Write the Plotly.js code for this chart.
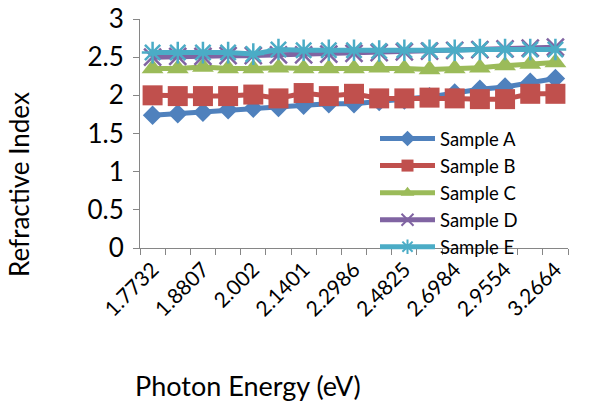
<!DOCTYPE html>
<html>
<head>
<meta charset="utf-8">
<script src="https://cdn.plot.ly/plotly-3.0.1.min.js"></script>
<style>html,body{margin:0;padding:0;background:#fff;}#chart{width:592px;height:404px;}</style>
</head>
<body>
<div id="chart"></div>
<script>
var categories = ["1.7732","1.8254","1.8807","1.9395","2.002","2.0688","2.1401","2.2165","2.2986","2.387","2.4825","2.5859","2.6984","2.821","2.9554","3.1031","3.2664"];
var sampleA = [1.74,1.76,1.78,1.81,1.83,1.84,1.87,1.89,1.89,1.92,1.94,1.98,2.03,2.08,2.11,2.17,2.22];
var sampleB = [2.00,1.99,1.99,1.99,2.01,1.96,2.03,1.99,2.02,1.96,1.96,1.97,1.96,1.95,1.95,2.02,2.02];
var sampleC = [2.35,2.35,2.37,2.35,2.35,2.36,2.35,2.35,2.35,2.36,2.35,2.34,2.35,2.36,2.39,2.41,2.43];
var sampleD = [2.50,2.51,2.51,2.52,2.52,2.53,2.53,2.54,2.55,2.56,2.57,2.58,2.59,2.60,2.61,2.62,2.63];
var sampleE = [2.56,2.56,2.56,2.56,2.54,2.60,2.59,2.59,2.59,2.58,2.59,2.59,2.59,2.60,2.60,2.60,2.60];
var seriesNames = ["Sample A","Sample B","Sample C","Sample D","Sample E"];
var yTicks = [0,0.5,1,1.5,2,2.5,3];
var yTickText = ["0","0.5","1","1.5","2","2.5","3"];

var xTickText = categories.map(function(c,i){ return i % 2 === 0 ? c : ""; });

var FONT = "Lato, 'Open Sans', sans-serif";
function tr(name, y, color, symbol, size, lw){
  return {
    type:"scatter", mode:"lines+markers", name:name, x:categories, y:y,
    line:{color:color, width:5},
    marker:{color:color, symbol:symbol, size:size, line:{color:color, width:lw}}
  };
}
var data = [
  tr(seriesNames[0], sampleA, "#4F81BD", "diamond", 15, 0),
  tr(seriesNames[1], sampleB, "#C0504D", "square", 20, 0),
  tr(seriesNames[2], sampleC, "#9BBB59", "triangle-up", 19, 0),
  tr(seriesNames[3], sampleD, "#8064A2", "x-thin-open", 17, 2.5),
  tr(seriesNames[4], sampleE, "#4BACC6", "asterisk-open", 18, 2.5)
];

var layout = {
  width:592, height:404,
  margin:{l:140, r:24, t:19, b:156, pad:0},
  paper_bgcolor:"#fff", plot_bgcolor:"#fff",
  showlegend:true,
  font:{family:FONT, color:"#000"},
  xaxis:{
    type:"category", tickson:"boundaries",
    tickmode:"array", tickvals:categories, ticktext:xTickText,
    tickangle:-45, ticks:"outside", ticklen:6, tickcolor:"#868686", tickwidth:1,
    showline:true, linecolor:"#868686", linewidth:1,
    showgrid:false, zeroline:false,
    tickfont:{family:FONT, size:21, color:"#000"},
    range:[-0.5,16.5]
  },
  yaxis:{
    range:[0,3], tickmode:"array", tickvals:yTicks, ticktext:yTickText,
    ticks:"outside", ticklen:6, tickcolor:"#868686", tickwidth:1,
    showline:true, linecolor:"#868686", linewidth:1,
    showgrid:false, zeroline:false,
    tickfont:{family:FONT, size:26, color:"#000"},
    ticklabelstandoff:4
  },
  legend:{
    x:(375-140)/428, y:(248-120)/229, xanchor:"left", yanchor:"top",
    bgcolor:"rgba(0,0,0,0)", borderwidth:0,
    font:{family:FONT, size:18.5, color:"#000"},
    itemsizing:"constant", itemwidth:55, tracegroupgap:0
  },
  annotations:[
    {text:"Refractive Index", xref:"paper", yref:"paper", x:(19-140)/428, y:(248-185)/229,
     xanchor:"center", yanchor:"middle", textangle:-90, showarrow:false,
     font:{family:FONT, size:26, color:"#000"}},
    {text:"Photon Energy (eV)", xref:"paper", yref:"paper", x:(248-140)/428, y:(248-385)/229,
     xanchor:"center", yanchor:"middle", showarrow:false,
     font:{family:FONT, size:27, color:"#000"}}
  ]
};
Plotly.newPlot("chart", data, layout, {displayModeBar:false, staticPlot:true});
</script>
</body>
</html>
